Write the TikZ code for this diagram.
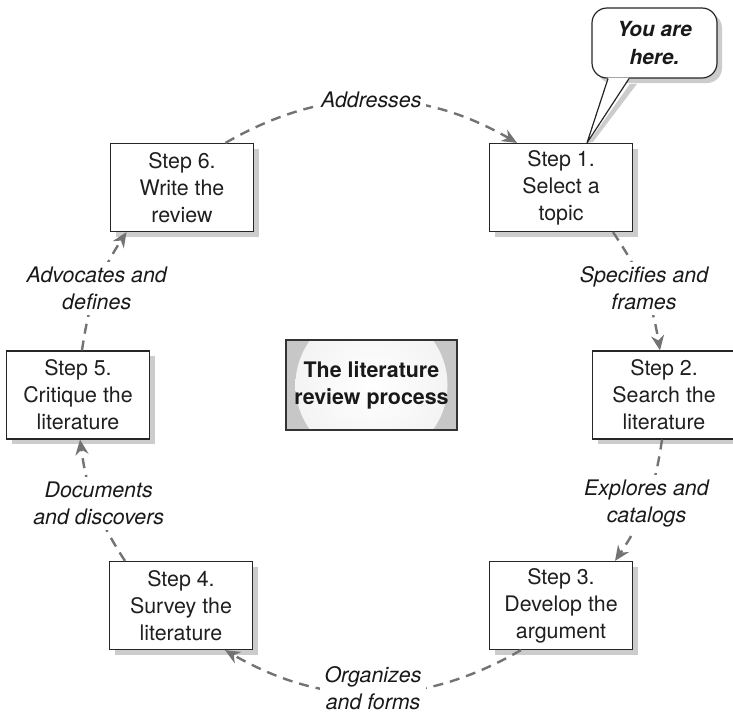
\documentclass[tikz,border=0pt]{standalone}
\usepackage{fontspec}
\setmainfont{TeX Gyre Heros}
\usetikzlibrary{arrows.meta,shadows,calc}
\pgfdeclareradialshading{glow}{\pgfpoint{0bp}{0bp}}{color(0bp)=(white); color(30bp)=(black!6); color(47bp)=(black!13); color(50bp)=(black!16)}
\begin{document}
\begin{tikzpicture}[x=0.5pt,y=-0.5pt,
  shadowed/.style={drop shadow={shadow xshift=2.5pt, shadow yshift=-2.5pt, fill=black!20, opacity=1}},
  stepbox/.style={draw=black!85, line width=0.6pt, fill=white, minimum width=71.5pt, minimum height=44pt,
    inner sep=1pt, align=center, text=black!88, font=\fontsize{10.7}{13.5}\selectfont, shadowed},
  centerbox/.style={draw=black!80, line width=0.7pt, fill=black!22, minimum width=85.5pt, minimum height=45pt,
    inner sep=1pt, align=center, text=black!90, font=\bfseries\fontsize{10.7}{13.5}\selectfont,
    path picture={\shade[shading=glow] (path picture bounding box.center) circle[radius=38pt];}},
  bubble/.style={draw=black!85, line width=0.6pt, fill=white, rounded corners=7.5pt, minimum width=62.5pt,
    minimum height=35pt, inner sep=1pt, align=center, text=black!90,
    font=\bfseries\itshape\fontsize{10.4}{14}\selectfont, shadowed},
  lbl/.style={fill=white, align=center, inner sep=2.5pt, text=black!90, font=\itshape\fontsize{10.7}{13.5}\selectfont},
  conn/.style={draw=black!55, line width=1.2pt, dash pattern=on 5pt off 3.5pt, -{Stealth[length=7.5pt,width=6.5pt]}}
]
\useasboundingbox (0,0) rectangle (733,713);

\node[stepbox] (s1) at (561,187.5) {Step 1.\\Select a\\topic};
\node[stepbox] (s2) at (664,395) {Step 2.\\Search the\\literature};
\node[stepbox] (s3) at (561,605.5) {Step 3.\\Develop the\\argument};
\node[stepbox] (s4) at (181,605.5) {Step 4.\\Survey the\\literature};
\node[stepbox] (s5) at (78,395) {Step 5.\\Critique the\\literature};
\node[stepbox] (s6) at (182,187.5) {Step 6.\\Write the\\review};
\node[centerbox] (ctr) at (371.5,385) {The literature\\review process};

\draw[conn] ([xshift=21.75pt]s6.north) to[bend left=30] node[lbl]{Addresses} ([xshift=-22pt]s1.north);
\draw[conn] ([xshift=26pt]s1.south) to[bend left=12.5] node[lbl]{Specifies and\\frames} ([xshift=-2pt]s2.north);
\draw[conn] ([xshift=-1pt]s2.south) to[bend left=13] node[lbl]{Explores and\\catalogs} ([xshift=27pt]s3.north);
\draw[conn] ([xshift=-20pt]s3.south) to[bend left=30] node[lbl, yshift=2.5pt]{Organizes\\and forms} ([xshift=22pt]s4.south);
\draw[conn] ([xshift=-28pt]s4.north) to[bend left=12.7] node[lbl, xshift=2pt]{Documents\\and discovers} ([xshift=1pt]s5.south);
\draw[conn] ([xshift=2pt]s5.north) to[bend left=12.5] node[lbl]{Advocates and\\defines} ([xshift=-27.75pt]s6.south);

\node[bubble] (yah) at (654.5,43) {You are\\here.};
\coordinate (tl) at ([xshift=-23.25pt]yah.south);
\coordinate (tr) at ([xshift=-12.75pt]yah.south);
\coordinate (tip) at ([xshift=13pt]s1.north);
\fill[black!20] ([xshift=0.5pt,yshift=-2.6pt]tr) -- ([xshift=4pt,yshift=-2.6pt]tr) -- ([xshift=3pt,yshift=0.5pt]tip) -- ([xshift=0.5pt]tip) -- cycle;
\fill[white] ([yshift=0.5pt]tl) -- ([yshift=0.5pt]tr) -- (tip) -- cycle;
\draw[line width=0.6pt, black!85, line join=round] (tl) -- (tip) -- (tr);
\end{tikzpicture}
\end{document}
